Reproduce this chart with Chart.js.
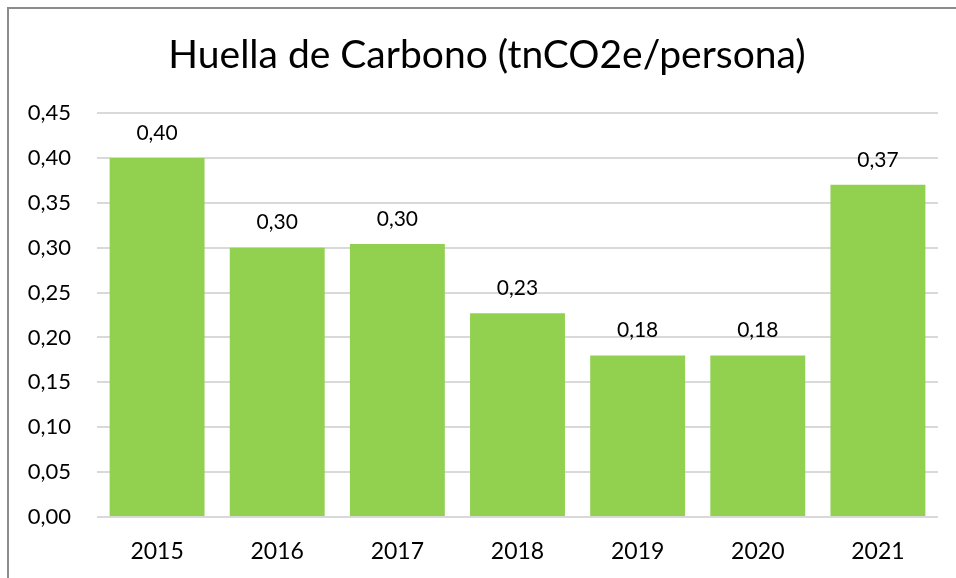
<!DOCTYPE html>
<html>
<head>
<meta charset="utf-8">
<script src="https://cdn.jsdelivr.net/npm/chart.js@4"></script>
<style>
  html, body { margin: 0; padding: 0; background: #fff; }
  #wrap { position: relative; width: 956px; height: 578px; }
  #frame { position: absolute; left: 7px; top: 7px; right: 0; bottom: 0;
           border-left: 2px solid #8c8c8c; border-top: 2px solid #8c8c8c; pointer-events: none; }
</style>
</head>
<body>
<div id="wrap">
  <canvas id="myChart" width="956" height="578"></canvas>
  <div id="frame"></div>
</div>
<script>
// datos
var titulo = "Huella de Carbono (tnCO2e/persona)";
var years = ["2015", "2016", "2017", "2018", "2019", "2020", "2021"];
var huella = [0.400, 0.300, 0.304, 0.227, 0.180, 0.180, 0.370];
var yTicks = [0, 0.05, 0.10, 0.15, 0.20, 0.25, 0.30, 0.35, 0.40, 0.45];

function coma(v) {
	return v.toFixed(2).replace(".", ",");
}

// titulo y etiquetas encima de cada barra
var barLabels = {
	id: "barLabels",
	afterDatasetsDraw: function(chart) {
		var ctx = chart.ctx;
		var meta = chart.getDatasetMeta(0);
		ctx.save();
		ctx.fillStyle = "#000";
		ctx.textAlign = "center";
		ctx.textBaseline = "middle";
		ctx.font = "39px Lato";
		ctx.fillText(titulo, 487, 55);
		ctx.font = "21px Lato";
		meta.data.forEach(function(bar, i) {
			ctx.fillText(coma(huella[i]), bar.x, bar.y - 25);
		});
		ctx.restore();
	}
};

var myChart = new Chart(document.getElementById("myChart"), {
	type: "bar",
	data: {
		labels: years,
		datasets: [{
			label: "Huella",
			data: huella,
			backgroundColor: "#92d050",
			borderWidth: 0,
			categoryPercentage: 1,
			barPercentage: 0.79
		}]
	},
	options: {
		responsive: false,
		animation: false,
		layout: { padding: { left: 0, right: 18, top: 113, bottom: 0 } },
		plugins: {
			legend: { display: false },
			tooltip: { enabled: false },
			title: { display: false }
		},
		scales: {
			x: {
				afterFit: function(scale) { scale.height = 61; },
				grid: { display: false, drawTicks: false },
				border: { display: false },
				ticks: { color: "#000", font: { family: "Lato", size: 23 }, padding: 21 }
			},
			y: {
				min: 0,
				max: 0.45,
				afterFit: function(scale) { scale.width = 97; },
				afterBuildTicks: function(scale) {
					scale.ticks = yTicks.map(function(v) { return { value: v }; });
				},
				grid: { color: "#d9d9d9", lineWidth: 2, drawTicks: false },
				border: { display: false },
				ticks: {
					color: "#000",
					font: { family: "Lato", size: 22 },
					padding: 26,
					callback: function(v) { return coma(v); }
				}
			}
		}
	},
	plugins: [barLabels]
});
</script>
</body>
</html>
